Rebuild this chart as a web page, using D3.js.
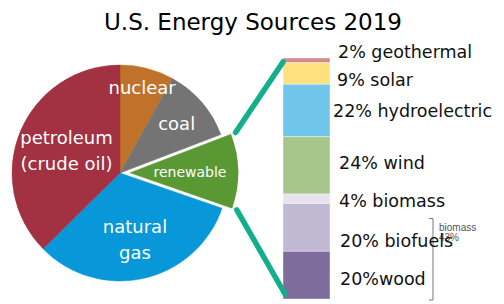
<!DOCTYPE html>
<html>
<head>
<meta charset="utf-8">
<script src="https://cdn.jsdelivr.net/npm/d3@7"></script>
<style>
  body { margin: 0; background: #fff; }
  svg { display: block; }
  text { font-family: "Comic Sans MS", "DejaVu Sans", sans-serif; }
</style>
</head>
<body>
<div id="chart"></div>
<script>
// pie data, clockwise from 12 o'clock
var sources = ["nuclear", "coal", "renewable", "natural gas", "petroleum"];
var shares = [8, 11, 11, 32, 37];
var sourceColors = ["#c0722a", "#747474", "#5a9834", "#0897d8", "#a23141"];
var sourceLabels = [["nuclear"], ["coal"], ["renewable"], ["natural", "gas"], ["petroleum", "(crude oil)"]];

// renewable breakdown, top to bottom
var renewables = ["geothermal", "solar", "hydroelectric", "wind", "biomass", "biofuels", "wood"];
var renewShares = [2, 9, 22, 24, 4, 20, 20];
var renewColors = ["#d58a8e", "#fde17e", "#70c5ea", "#a7c68b", "#e6e3ee", "#c1b9d4", "#7d6c9c"];
var renewLabels = ["2% geothermal", "9% solar", "22% hydroelectric", "24% wind", "4% biomass", "20% biofuels", "20%wood"];

(function() {
  var width = 504, height = 304;
  var cx = 120, cy = 173, radius = 108;
  var explode = 10;

  var svg = d3.select("#chart").append("svg")
    .attr("width", width)
    .attr("height", height);

  svg.append("text")
    .attr("x", 253)
    .attr("y", 30)
    .attr("text-anchor", "middle")
    .style("font-size", "23px")
    .text("U.S. Energy Sources 2019");

  var pie = d3.pie().sort(null).value(function(d) { return d; });
  var slices = pie(shares);
  var arc = d3.arc().innerRadius(0).outerRadius(radius);

  // label radius per slice
  var labelR = [88, 75, 60, 68, 58];
  var labelSize = [18, 18, 14, 18, 18];

  function offsetOf(i) {
    if (sources[i] !== "renewable") return [0, 0];
    var a = (slices[i].startAngle + slices[i].endAngle) / 2;
    return [explode * Math.sin(a), -explode * Math.cos(a)];
  }

  var g = svg.append("g").attr("transform", "translate(" + cx + "," + cy + ")");

  g.selectAll(".slice")
    .data(slices)
    .enter().append("path")
    .attr("class", "slice")
    .attr("transform", function(d, i) {
      var o = offsetOf(i);
      return "translate(" + o[0] + "," + o[1] + ")";
    })
    .attr("d", arc)
    .attr("fill", function(d, i) { return sourceColors[i]; })
    .attr("stroke", function(d, i) { return sourceColors[i]; })
    .attr("stroke-width", 0.5);

  // labels drawn after all slices so none get covered
  g.selectAll(".plabel")
    .data(slices)
    .enter().append("text")
    .attr("class", "plabel")
    .attr("text-anchor", "middle")
    .attr("fill", "#fff")
    .style("font-size", function(d, i) { return labelSize[i] + "px"; })
    .each(function(d, i) {
      var a = (d.startAngle + d.endAngle) / 2;
      var o = offsetOf(i);
      var lx = o[0] + labelR[i] * Math.sin(a), ly = o[1] - labelR[i] * Math.cos(a);
      var lines = sourceLabels[i];
      var lh = labelSize[i] * 1.45;
      var t = d3.select(this);
      lines.forEach(function(s, k) {
        t.append("tspan")
          .attr("x", lx)
          .attr("y", ly + (k - (lines.length - 1) / 2) * lh)
          .attr("dy", "0.35em")
          .text(s);
      });
    });

  // stacked bar for renewables
  var barX = 283, barW = 47;
  var total = d3.sum(renewShares);
  var y = d3.scaleLinear().domain([0, total]).range([58, 299]);
  var cum = 0;
  var segs = renewShares.map(function(v, i) {
    var s = { y0: cum, y1: cum + v, i: i };
    cum += v;
    return s;
  });

  svg.selectAll(".seg")
    .data(segs)
    .enter().append("rect")
    .attr("class", "seg")
    .attr("x", barX)
    .attr("width", barW)
    .attr("y", function(d) { return y(d.y0); })
    .attr("height", function(d) { return y(d.y1) - y(d.y0); })
    .attr("fill", function(d) { return renewColors[d.i]; })
    .attr("stroke", "#fff")
    .attr("stroke-opacity", 0.5)
    .attr("stroke-width", 0.8);

  // biomass bracket
  var bx = 433;
  var bTop = y(total - 20 - 20) + 15, bBot = y(total) + 1;
  svg.append("path")
    .attr("d", "M" + (bx - 4) + "," + bTop + "H" + bx + "V" + bBot + "H" + (bx - 4))
    .attr("fill", "none")
    .attr("stroke", "#777")
    .attr("stroke-width", 1);

  var bt = svg.append("text")
    .attr("fill", "#555")
    .style("font-family", "Liberation Sans, Arial, sans-serif")
    .style("font-size", "10px");
  bt.append("tspan").attr("x", 439).attr("y", 231).text("biomass");
  bt.append("tspan").attr("x", 439).attr("y", 241).text("43%");

  // label positions as placed in the original (not centred on every segment)
  var labelX = [338, 337, 333, 339, 339, 340, 340];
  var labelY = [52, 80, 111, 163, 201, 241, 279];
  svg.selectAll(".rlabel")
    .data(segs)
    .enter().append("text")
    .attr("class", "rlabel")
    .attr("x", function(d) { return labelX[d.i]; })
    .attr("y", function(d) { return labelY[d.i]; })
    .attr("dy", "0.35em")
    .style("font-size", "17.5px")
    .attr("fill", "#111")
    .text(function(d) { return renewLabels[d.i]; });

  // connector lines from the renewable slice to the bar
  var ri = sources.indexOf("renewable");
  var ro = offsetOf(ri);
  var rr = radius + 5;
  var p0 = [cx + ro[0] + rr * Math.sin(slices[ri].startAngle), cy + ro[1] - rr * Math.cos(slices[ri].startAngle)];
  var p1 = [cx + ro[0] + rr * Math.sin(slices[ri].endAngle), cy + ro[1] - rr * Math.cos(slices[ri].endAngle)];
  var conn = [
    [p0, [barX, y(0) + 4]],
    [p1, [barX + 2, y(total) - 5]]
  ];
  svg.selectAll(".conn")
    .data(conn)
    .enter().append("path")
    .attr("class", "conn")
    .attr("d", d3.line())
    .attr("stroke", "#13ae8b")
    .attr("stroke-width", 5.5)
    .attr("stroke-linecap", "round")
    .attr("fill", "none");
})();
</script>
</body>
</html>
